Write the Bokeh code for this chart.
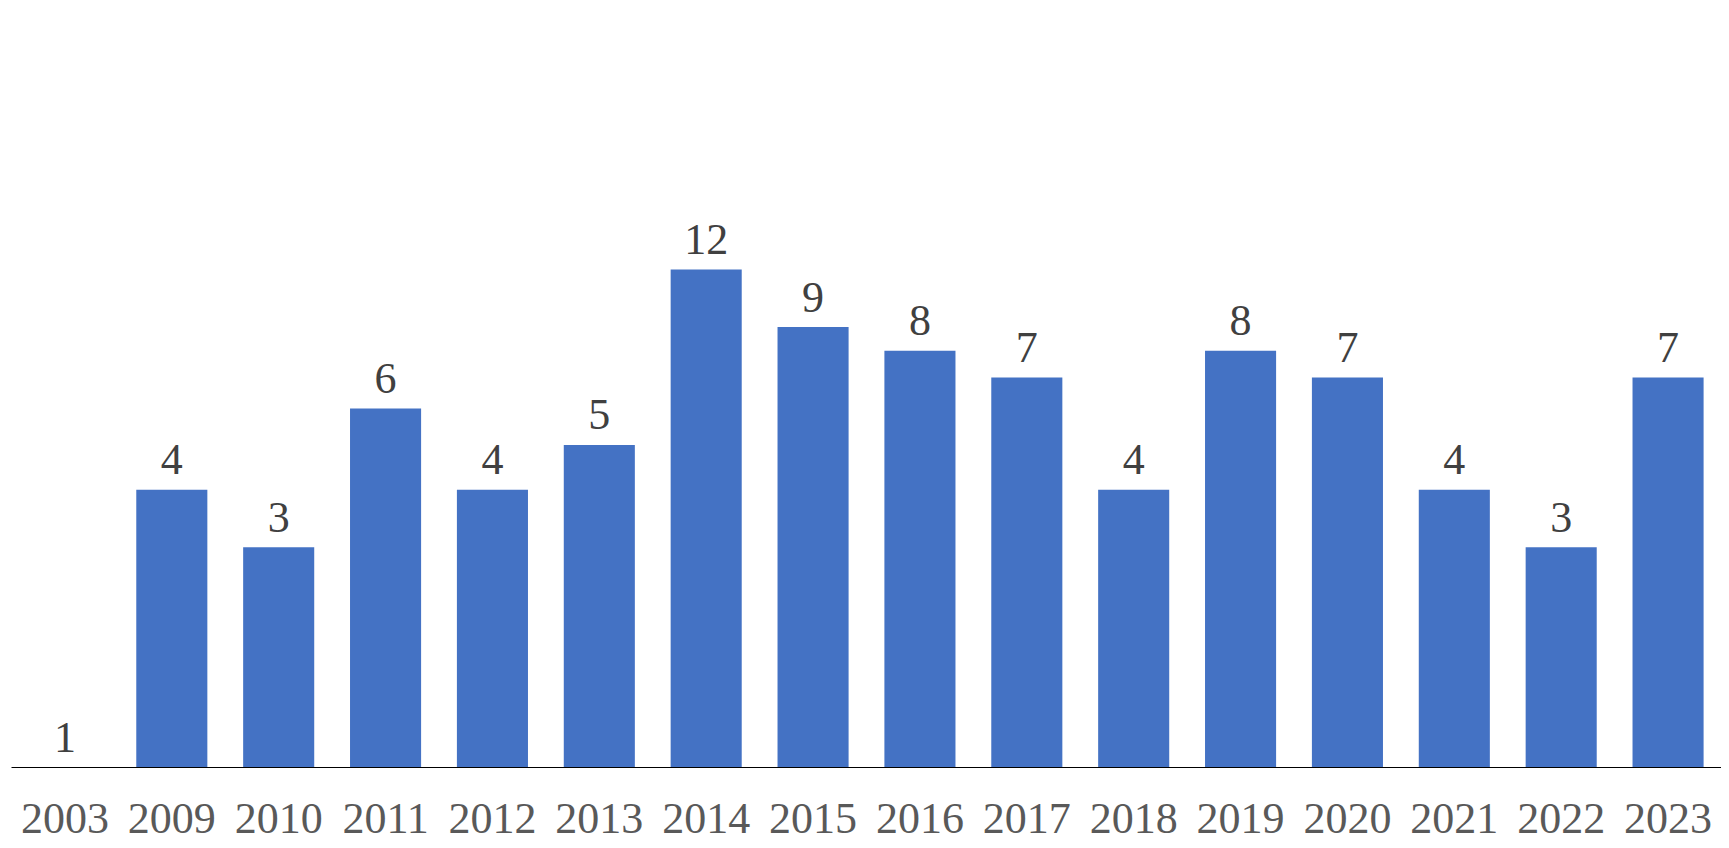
from bokeh.plotting import figure
from bokeh.models import ColumnDataSource, Range1d
from bokeh.core.properties import value
from bokeh.embed import file_html
from bokeh.resources import INLINE

years = ["2003", "2009", "2010", "2011", "2012", "2013", "2014", "2015",
         "2016", "2017", "2018", "2019", "2020", "2021", "2022", "2023"]
counts = [1, 4, 3, 6, 4, 5, 12, 9, 8, 7, 4, 8, 7, 4, 3, 7]

src = ColumnDataSource(dict(x=years, top=counts, bottom=[1] * len(counts),
                            label=[str(c) for c in counts]))

frame_h = 759
decade_px = 461.5
p = figure(x_range=years, y_axis_type="log",
           y_range=Range1d(1, 10 ** (frame_h / decade_px)),
           frame_width=1710, frame_height=frame_h,
           output_backend="svg", toolbar_location=None,
           min_border_left=11, min_border_right=0, min_border_top=8,
           min_border_bottom=80)
p.outline_line_color = None
p.background_fill_color = "white"
p.border_fill_color = "white"
p.grid.visible = False
p.yaxis.visible = False
p.x_range.range_padding = 0

p.vbar(x="x", top="top", bottom="bottom", width=0.665, source=src,
       fill_color="#4472C4", line_color=None)

p.text(x="x", y="top", text="label", source=src, text_align="center",
       text_baseline="alphabetic", y_offset=-30,
       text_font=value("Liberation Serif"), text_font_size="44px",
       text_color="#404040")

ax = p.xaxis[0]
ax.axis_line_color = "black"
ax.axis_line_width = 1
ax.major_tick_line_color = None
ax.minor_tick_line_color = None
ax.major_tick_out = 0
ax.major_tick_in = 0
ax.major_label_standoff = 36
ax.major_label_text_font = "Liberation Serif"
ax.major_label_text_font_size = "44px"
ax.major_label_text_color = "#595959"

open("out.html", "w").write(file_html(p, INLINE))
